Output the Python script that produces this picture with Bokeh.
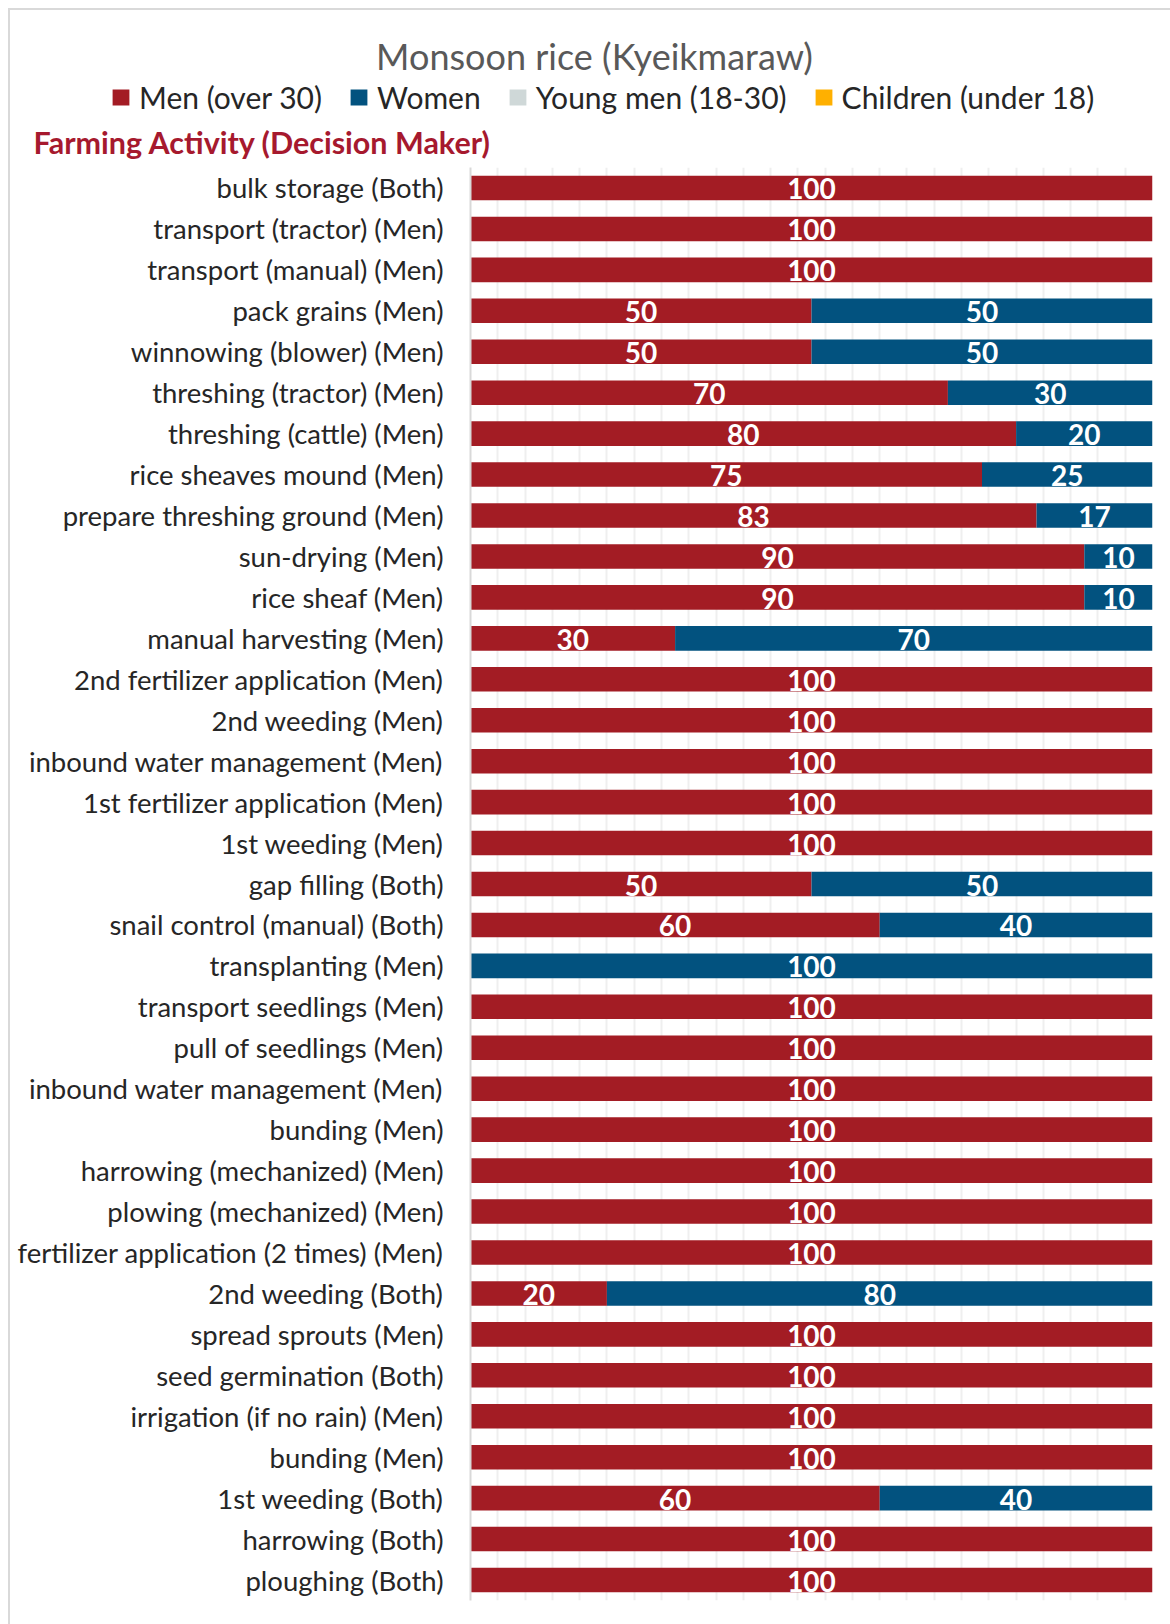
from bokeh.plotting import figure
from bokeh.layouts import column
from bokeh.models import (ColumnDataSource, Range1d, FixedTicker, LabelSet,
                          Legend, LegendItem)
from bokeh.core.properties import value
from bokeh.embed import file_html
from bokeh.resources import INLINE

# ---------------- data (top to bottom) ----------------
activities = [
    "bulk storage (Both)",
    "transport (tractor) (Men)",
    "transport (manual) (Men)",
    "pack grains (Men)",
    "winnowing (blower) (Men)",
    "threshing (tractor) (Men)",
    "threshing (cattle) (Men)",
    "rice sheaves mound (Men)",
    "prepare threshing ground (Men)",
    "sun-drying (Men)",
    "rice sheaf (Men)",
    "manual harvesting (Men)",
    "2nd fertilizer application (Men)",
    "2nd weeding (Men)",
    "inbound water management (Men)",
    "1st fertilizer application (Men)",
    "1st weeding (Men)",
    "gap filling (Both)",
    "snail control (manual) (Both)",
    "transplanting (Men)",
    "transport seedlings (Men)",
    "pull of seedlings (Men)",
    "inbound water management (Men)",
    "bunding (Men)",
    "harrowing (mechanized) (Men)",
    "plowing (mechanized) (Men)",
    "fertilizer application (2 times) (Men)",
    "2nd weeding (Both)",
    "spread sprouts (Men)",
    "seed germination (Both)",
    "irrigation (if no rain) (Men)",
    "bunding (Men)",
    "1st weeding (Both)",
    "harrowing (Both)",
    "ploughing (Both)",
]
men = [100, 100, 100, 50, 50, 70, 80, 75, 83, 90, 90, 30, 100, 100, 100, 100, 100,
       50, 60, 0, 100, 100, 100, 100, 100, 100, 100, 20, 100, 100, 100, 100, 60, 100, 100]
women = [0, 0, 0, 50, 50, 30, 20, 25, 17, 10, 10, 70, 0, 0, 0, 0, 0,
         50, 40, 100, 0, 0, 0, 0, 0, 0, 0, 80, 0, 0, 0, 0, 40, 0, 0]
young_men = [0] * 35
children = [0] * 35

series_names = ["Men (over 30)", "Women", "Young men (18-30)", "Children (under 18)"]
title_text = "Monsoon rice (Kyeikmaraw)"
subtitle_text = "Farming Activity (Decision Maker)"

# ---------------- styling ----------------
RED = "#A31C24"
BLUE = "#02527F"
GREY = "#CFD8D8"
YELLOW = "#FFB000"
colors = [RED, BLUE, GREY, YELLOW]
FONT = "Lato"
W = 1160
HEAD_H = 150

n = len(activities)
ypos = list(range(1, n + 1))
stack_keys = ["men", "women", "young", "children"]

# ---------------- header: title, legend, subtitle ----------------
head = figure(width=W, height=HEAD_H, output_backend="svg", toolbar_location=None,
              x_range=Range1d(0, W), y_range=Range1d(HEAD_H, 0),
              x_axis_type=None, y_axis_type=None,
              min_border=0, min_border_left=0, min_border_right=0,
              min_border_top=0, min_border_bottom=0, title=None)
head.outline_line_color = None
head.frame_align = False
head.xgrid.visible = False
head.ygrid.visible = False

head.text(x=[584], y=[45], text=[title_text], text_align="center",
          text_baseline="middle", text_font=value(FONT), text_font_size="36px",
          text_color="#595959")
head.text(x=[23], y=[131], text=[subtitle_text], text_align="left",
          text_baseline="middle", text_font=value(FONT), text_font_size="30.5px",
          text_font_style="bold", text_color="#A6192E")

# legend proxies: zero-size bars that only carry the series colours
proxies = [head.hbar(y=[0], left=[0], right=[0], height=0, color=c, line_color=None)
           for c in colors]
legend = Legend(items=[LegendItem(label=nm, renderers=[r]) for nm, r in zip(series_names, proxies)],
                orientation="horizontal", location=(100, 45),
                glyph_width=21, glyph_height=20, label_standoff=8, spacing=26,
                padding=0, margin=0, border_line_color=None, background_fill_alpha=0,
                label_text_font=FONT, label_text_font_size="30px",
                label_text_color="#262626", label_height=20)
head.add_layout(legend)

# ---------------- main bar chart ----------------
source = ColumnDataSource(dict(y=ypos, men=men, women=women,
                               young=young_men, children=children))

p = figure(width=W, height=1464, output_backend="svg", toolbar_location=None,
           x_range=Range1d(0, 100), y_range=Range1d(n + 0.5, 0.5),
           min_border_left=460, min_border_right=18, min_border_top=7,
           min_border_bottom=24, title=None)
p.outline_line_color = None
p.frame_align = False

p.hbar_stack(stack_keys, y="y", height=0.6, color=colors, line_color=None, source=source)

p.xaxis.visible = False
p.xgrid.ticker = FixedTicker(ticks=list(range(0, 101, 4)))
p.xgrid.grid_line_color = "#EFEFEF"
p.xgrid.grid_line_width = 2
p.ygrid.grid_line_color = None

yax = p.yaxis[0]
yax.ticker = FixedTicker(ticks=ypos)
yax.major_label_overrides = {y: a for y, a in zip(ypos, activities)}
yax.major_tick_line_color = None
yax.minor_tick_line_color = None
yax.axis_line_color = "#D9D9D9"
yax.axis_line_width = 2
yax.major_label_text_font = FONT
yax.major_label_text_font_size = "27.5px"
yax.major_label_text_color = "#262626"
yax.major_label_standoff = 21

# value labels (centre of each non-zero segment)
lx, ly, lt = [], [], []
for i in range(n):
    start = 0
    for vals in (men, women, young_men, children):
        v = vals[i]
        if v > 0:
            lx.append(start + v / 2)
            ly.append(ypos[i])
            lt.append(str(v))
        start += v
lsrc = ColumnDataSource(dict(x=lx, y=ly, t=lt))
p.add_layout(LabelSet(x="x", y="y", text="t", source=lsrc, text_align="center",
                      text_baseline="middle", text_color="white",
                      text_font=value(FONT), text_font_size="28px",
                      text_font_style="bold", y_offset=-1))

layout = column(head, p, spacing=0)
layout.margin = (8, 0, 0, 8)
layout.styles = {"border-left": "2px solid #D9D9D9", "border-top": "2px solid #D9D9D9"}

open("out.html", "w").write(file_html(layout, INLINE))
